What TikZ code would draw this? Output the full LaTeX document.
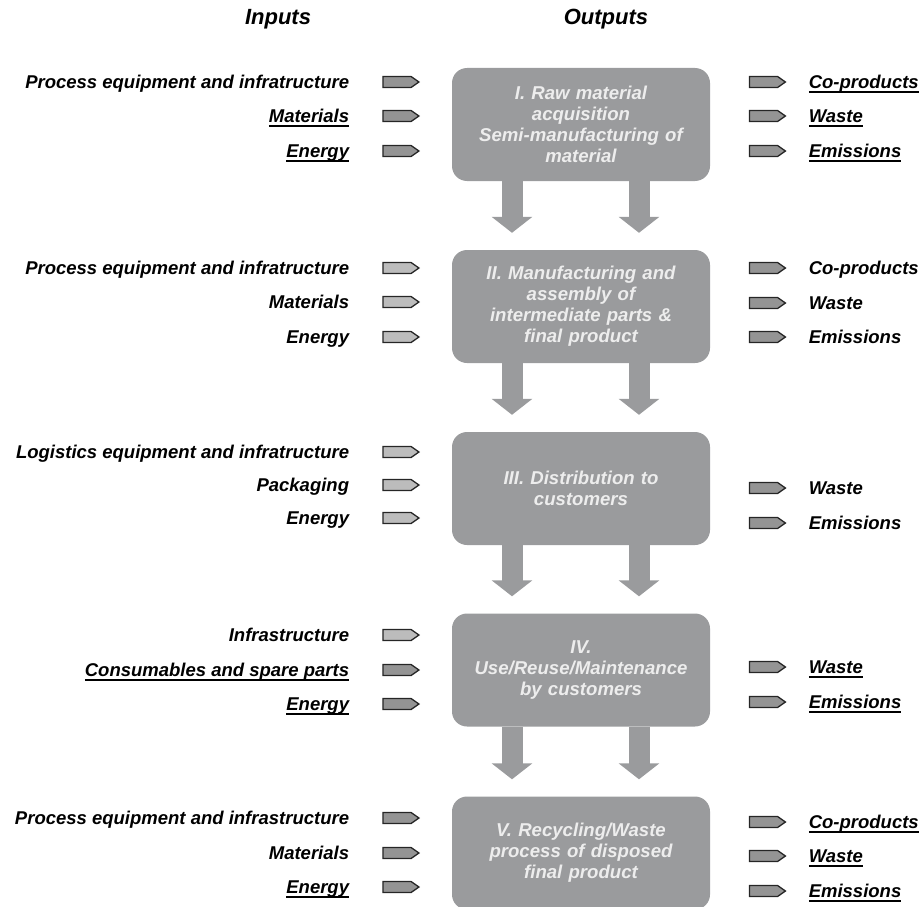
\documentclass[tikz,border=0pt]{standalone}
\usepackage{fontspec}
\setmainfont{Liberation Sans}
\usetikzlibrary{positioning,shapes.symbols,arrows.meta}
\definecolor{boxgray}{RGB}{154,155,157}
\definecolor{tipdark}{RGB}{148,148,148}
\definecolor{tiplight}{RGB}{188,188,188}
% underline at a fixed depth, through the descenders
\newcommand{\lineunder}[1]{\setbox0\hbox{#1}\rlap{\vrule height -2.4pt depth 4.0pt width \wd0}\box0}

\begin{document}
\begin{tikzpicture}[x=1pt,y=-1pt]
    \tikzstyle{stage}=[fill=boxgray,rounded corners=15pt,minimum width=258pt,minimum height=113pt,text width=244pt,align=center,inner sep=0pt,text=white!93!black,font=\fontsize{18.6}{21}\selectfont\bfseries\itshape]
    \tikzstyle{flow}=[draw=boxgray,line width=21pt,-{Triangle[width=40pt,length=16pt]},shorten >=17pt]
    \tikzstyle{sarrow}=[draw=black!85,line width=1.3pt,shape=signal,signal to=east,signal pointer angle=70,minimum width=36pt,minimum height=11pt,inner sep=0pt]
    \tikzstyle{lab}=[inner sep=0pt,text height=13.5pt,text depth=0.5pt,font=\fontsize{18.5}{22}\selectfont\bfseries\itshape]
    \tikzstyle{head}=[inner sep=0pt,font=\fontsize{22}{26}\selectfont\bfseries\itshape]
    \useasboundingbox (0,0) rectangle (921,907);

    \node[head] (inputs) at (278,19) {Inputs};
    \node[head] (outputs) at (606,19) {Outputs};

    % life cycle stages
    \node[stage] (s1) at (581,124.5) {I. Raw material\\ acquisition\\ Semi-manufacturing of\\ material};
    \node[stage] (s2) at (581,306.5) {II. Manufacturing and\\ assembly of\\ intermediate parts \&\\ final product};
    \node[stage] (s3) at (581,488.5) {III. Distribution to\\ customers};
    \node[stage] (s4) at (581,670) {IV.\\ Use/Reuse/Maintenance\\ by customers};
    \node[stage] (s5) at (581,853) {V. Recycling/Waste\\ process of disposed\\ final product};

    \foreach \a/\b in {s1/s2,s2/s3,s3/s4,s4/s5}
    {
        \draw[flow] ([xshift=-69pt]\a.south) -- ([xshift=-69pt]\b.north);
        \draw[flow] ([xshift=58pt]\a.south) -- ([xshift=58pt]\b.north);
    }

    % inputs
    \foreach \n/\y/\txt/\shade in {
        1/82/{Process equipment and infratructure}/tipdark,
        2/116/{\lineunder{Materials}}/tipdark,
        3/151/{\lineunder{Energy}}/tipdark,
        4/268/{Process equipment and infratructure}/tiplight,
        5/302/{Materials}/tiplight,
        6/337/{Energy}/tiplight,
        7/452/{Logistics equipment and infratructure}/tiplight,
        8/485/{Packaging}/tiplight,
        9/518/{Energy}/tiplight,
        10/635/{Infrastructure}/tiplight,
        11/670/{\lineunder{Consumables and spare parts}}/tipdark,
        12/704/{\lineunder{Energy}}/tipdark,
        13/818/{Process equipment and infrastructure}/tipdark,
        14/853/{Materials}/tipdark,
        15/887/{\lineunder{Energy}}/tipdark}
    {
        \node[sarrow,fill=\shade] (in\n) at (397,\y) {};
        \node[lab,left=33pt of in\n] (inl\n) {\txt};
    }

    % outputs
    \foreach \n/\y/\txt in {
        1/82/{\lineunder{Co-products}},
        2/116/{\lineunder{Waste}},
        3/151/{\lineunder{Emissions}},
        4/268/{Co-products},
        5/303/{Waste},
        6/337/{Emissions},
        7/488/{Waste},
        8/523/{Emissions},
        9/667/{\lineunder{Waste}},
        10/702/{\lineunder{Emissions}},
        11/822/{\lineunder{Co-products}},
        12/856/{\lineunder{Waste}},
        13/891/{\lineunder{Emissions}}}
    {
        \node[sarrow,fill=tipdark] (out\n) at (763.5,\y) {};
        \node[lab,right=22pt of out\n] (outl\n) {\txt};
    }
\end{tikzpicture}
\end{document}
